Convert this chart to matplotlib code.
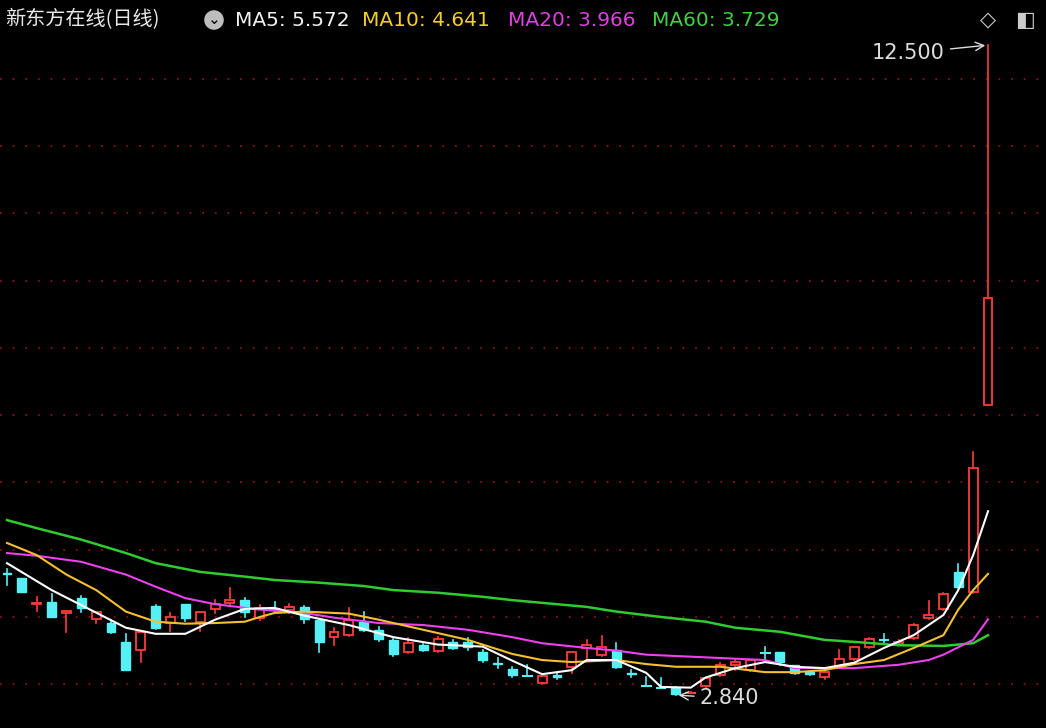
import matplotlib
matplotlib.use('Agg')
import matplotlib.pyplot as plt
import numpy as np
from matplotlib.patches import Rectangle

plt.rcParams['font.family'] = ['Noto Sans CJK SC', 'DejaVu Sans']

# daily candles: open, high, low, close
opens = [4.655, 4.58, 4.19, 4.22, 4.06, 4.28, 3.97, 3.91, 3.63, 3.51, 4.17, 3.91, 4.19, 3.93, 4.12, 4.21,
         4.25, 3.99, 4.135, 4.11, 4.15, 3.96, 3.70, 3.73, 3.93, 3.81, 3.66, 3.48, 3.59, 3.50, 3.63, 3.63,
         3.48, 3.32, 3.23, 3.14, 3.02, 3.14, 3.26, 3.54, 3.44, 3.51, 3.17, 2.99, 2.96, 2.95, 2.86, 2.98,
         3.14, 3.29, 3.21, 3.48, 3.48, 3.29, 3.18, 3.11, 3.26, 3.38, 3.56, 3.67, 3.60, 3.69, 3.99, 4.12,
         4.67, 4.37, 7.15]
highs = [4.71, 4.58, 4.30, 4.34, 4.09, 4.31, 4.08, 3.96, 3.75, 3.78, 4.18, 4.06, 4.19, 4.08, 4.25, 4.43,
         4.28, 4.18, 4.22, 4.19, 4.17, 3.97, 3.84, 4.135, 4.08, 3.85, 3.67, 3.69, 3.60, 3.70, 3.66, 3.69,
         3.51, 3.39, 3.26, 3.29, 3.13, 3.17, 3.48, 3.66, 3.72, 3.61, 3.21, 3.11, 3.10, 2.96, 2.88, 3.10,
         3.32, 3.36, 3.36, 3.56, 3.48, 3.29, 3.20, 3.20, 3.51, 3.56, 3.69, 3.75, 3.66, 3.90, 4.24, 4.35,
         4.79, 6.45, 12.50]
lows = [4.48, 4.37, 4.09, 4.00, 3.78, 4.08, 3.91, 3.76, 3.21, 3.33, 3.82, 3.79, 3.94, 3.79, 4.06, 4.18,
        4.00, 3.96, 4.08, 4.06, 3.91, 3.48, 3.59, 3.72, 3.79, 3.645, 3.42, 3.47, 3.50, 3.48, 3.53, 3.51,
        3.33, 3.24, 3.11, 3.13, 3.00, 3.08, 3.17, 3.39, 3.42, 3.24, 3.11, 2.98, 2.95, 2.84, 2.85, 2.96,
        3.13, 3.21, 3.20, 3.38, 3.29, 3.15, 3.14, 3.08, 3.24, 3.36, 3.54, 3.60, 3.59, 3.67, 3.97, 4.11,
        4.43, 4.36, 7.15]
closes = [4.64, 4.37, 4.21, 4.00, 4.09, 4.135, 4.08, 3.78, 3.21, 3.78, 3.84, 4.00, 3.99, 4.08, 4.19, 4.25,
          4.08, 4.135, 4.12, 4.15, 3.97, 3.63, 3.78, 3.96, 3.81, 3.67, 3.45, 3.61, 3.51, 3.67, 3.54, 3.56,
          3.36, 3.30, 3.14, 3.13, 3.13, 3.11, 3.48, 3.59, 3.56, 3.26, 3.15, 2.98, 2.95, 2.86, 2.87, 3.10,
          3.29, 3.33, 3.36, 3.47, 3.33, 3.17, 3.15, 3.18, 3.38, 3.56, 3.67, 3.66, 3.63, 3.88, 4.03, 4.34,
          4.45, 6.22, 8.74]

# moving averages (day index, value)
ma5_idx = [0, 3, 8, 10, 12, 14, 16, 18, 20, 23, 26, 29, 32, 34, 36, 38, 39, 41, 43, 44, 46, 47, 49, 51,
           53, 55, 57, 59, 61, 63, 64, 65, 66]
ma5_val = [4.80, 4.40, 3.84, 3.75, 3.75, 3.96, 4.12, 4.135, 4.02, 3.88, 3.70, 3.59, 3.56, 3.35, 3.15, 3.21,
           3.36, 3.36, 3.17, 2.96, 2.95, 3.10, 3.24, 3.33, 3.26, 3.24, 3.32, 3.54, 3.73, 4.03, 4.40, 4.92, 5.572]
ma10_idx = [0, 2, 4, 6, 8, 10, 12, 14, 16, 17, 18, 20, 23, 25, 28, 31, 34, 36, 38, 41, 43, 45, 48, 51,
            53, 55, 57, 59, 61, 63, 64, 65, 66]
ma10_val = [5.10, 4.92, 4.63, 4.40, 4.08, 3.93, 3.90, 3.91, 3.93, 4.00, 4.06, 4.08, 4.05, 3.96, 3.81, 3.66,
            3.45, 3.36, 3.33, 3.36, 3.30, 3.26, 3.26, 3.18, 3.18, 3.21, 3.30, 3.36, 3.54, 3.73, 4.11, 4.40, 4.641]
ma20_idx = [0, 2, 5, 8, 10, 12, 14, 17, 20, 22, 25, 28, 31, 34, 36, 39, 41, 43, 46, 48, 51, 53, 55, 57,
            60, 62, 63, 65, 66]
ma20_val = [4.95, 4.91, 4.82, 4.63, 4.45, 4.28, 4.19, 4.11, 4.06, 3.99, 3.91, 3.88, 3.81, 3.70, 3.61, 3.54,
            3.50, 3.44, 3.41, 3.39, 3.36, 3.24, 3.24, 3.24, 3.29, 3.36, 3.44, 3.66, 3.966]
ma60_idx = [0, 2, 5, 8, 10, 13, 16, 18, 21, 24, 26, 29, 32, 34, 36, 39, 41, 44, 47, 49, 52, 55, 57, 60,
            63, 65, 66]
ma60_val = [5.44, 5.32, 5.15, 4.95, 4.80, 4.67, 4.60, 4.55, 4.51, 4.46, 4.40, 4.36, 4.30, 4.25, 4.21, 4.15,
            4.08, 4.00, 3.93, 3.84, 3.78, 3.66, 3.63, 3.58, 3.57, 3.61, 3.729]

UP = '#ff3b3b'
DOWN = '#54f0f5'

fig = plt.figure(figsize=(10.46, 7.28), dpi=100, facecolor='black')
ax = fig.add_axes([0, 0, 1, 693 / 728])
ax.set_facecolor('black')
ax.set_xlim(-0.47, 69.9)
ax.set_ylim(2.35, 12.65)
ax.axis('off')

for g in range(3, 13):
    ax.axhline(g, color='#8a1212', lw=1.3, ls=(0, (1, 6)), zorder=0)

w = 0.6
for i, (o, h, l, c) in enumerate(zip(opens, highs, lows, closes)):
    up = c >= o
    col = UP if up else DOWN
    lo_b, hi_b = min(o, c), max(o, c)
    ax.plot([i, i], [hi_b, h], color=col, lw=1.2, zorder=2)
    ax.plot([i, i], [l, lo_b], color=col, lw=1.2, zorder=2)
    if hi_b - lo_b < 0.015:
        ax.plot([i - w / 2, i + w / 2], [c, c], color=col, lw=1.5, zorder=2)
    elif up:
        ax.add_patch(Rectangle((i - w / 2, lo_b), w, hi_b - lo_b, facecolor='black',
                               edgecolor=col, lw=1.3, zorder=2))
    else:
        ax.add_patch(Rectangle((i - w / 2, lo_b), w, hi_b - lo_b, facecolor=col,
                               edgecolor=col, lw=1, zorder=2))

ax.plot(ma60_idx, ma60_val, color='#2ecc2e', lw=1.8, zorder=3)
ax.plot(ma20_idx, ma20_val, color='#ee40ee', lw=1.5, zorder=3)
ax.plot(ma10_idx, ma10_val, color='#f5c030', lw=1.5, zorder=3)
ax.plot(ma5_idx, ma5_val, color='white', lw=1.5, zorder=4)

# extreme labels
ax.annotate('12.500', xy=(66, 12.5), xytext=(63.1, 12.38), color='#dddddd', fontsize=15,
            ha='right', va='center', family=['DejaVu Sans'],
            arrowprops=dict(arrowstyle='->', color='#dddddd', lw=1))
ax.annotate('2.840', xy=(45, 2.84), xytext=(46.6, 2.79), color='#dddddd', fontsize=15,
            ha='left', va='center', family=['DejaVu Sans'],
            arrowprops=dict(arrowstyle='->', color='#dddddd', lw=1))

# header
fy = 1 - 20 / 728
fs = 14.5
fig.text(5 / 1046, fy, '新东方在线(日线)', color='#e8e8e8', fontsize=fs, va='center')
fig.text(214 / 1046, fy, '⌄', color='black', fontsize=11, va='center', ha='center',
         bbox=dict(boxstyle='circle,pad=0.15', fc='#bdbdbd', ec='none'), family=['DejaVu Sans'])
fig.text(235 / 1046, fy, 'MA5: 5.572', color='#f0f0f0', fontsize=fs, va='center', family=['DejaVu Sans'])
fig.text(362 / 1046, fy, 'MA10: 4.641', color='#f5d020', fontsize=fs, va='center', family=['DejaVu Sans'])
fig.text(508 / 1046, fy, 'MA20: 3.966', color='#e040e0', fontsize=fs, va='center', family=['DejaVu Sans'])
fig.text(652 / 1046, fy, 'MA60: 3.729', color='#40d040', fontsize=fs, va='center', family=['DejaVu Sans'])
fig.text(988 / 1046, fy, '◇', color='#cccccc', fontsize=15, va='center', ha='center', family=['DejaVu Sans'])
fig.text(1025 / 1046, fy, '◧', color='#cccccc', fontsize=15, va='center', ha='center', family=['DejaVu Sans'])

fig.savefig('out.png', dpi=100, facecolor='black')
